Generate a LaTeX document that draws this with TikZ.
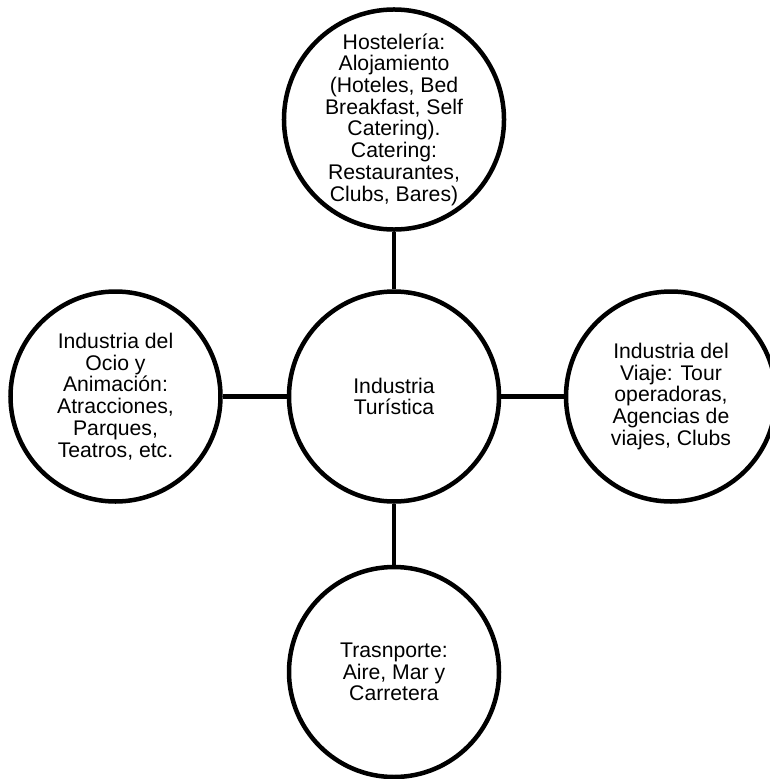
\documentclass[tikz,border=0pt]{standalone}
\usepackage{fontspec}
\setmainfont{Liberation Sans}
\begin{document}
\begin{tikzpicture}[x=1pt,y=-1pt,
		sector/.style={draw, circle, line width=4.5pt, minimum size=210pt, inner sep=0pt, align=center, font=\fontsize{21.2}{21.7}\selectfont},
		link/.style={line width=4.5pt}]
		\useasboundingbox (0,0) rectangle (769,779);
		\node[sector] (ind) at (394,396.5) {Industria\\Turística};
		\node[sector] (hos) at (394,119.5) {Hostelería:\\Alojamiento\\(Hoteles, Bed\\Breakfast, Self\\Catering).\\Catering:\\Restaurantes,\\Clubs, Bares)};
		\node[sector] (ocio) at (115.5,396.5) {Industria del\\Ocio y\\Animación:\\Atracciones,\\Parques,\\Teatros, etc.};
		\node[sector] (viaje) at (671,396.5) {Industria del\\Viaje: Tour\\operadoras,\\Agencias de\\viajes, Clubs};
		\node[sector] (trans) at (394,672) {Trasnporte:\\Aire, Mar y\\Carretera};
		\draw[link] (ind) -- (hos);
		\draw[link] (ind) -- (ocio);
		\draw[link] (ind) -- (viaje);
		\draw[link] (ind) -- (trans);
		\end{tikzpicture}
\end{document}
